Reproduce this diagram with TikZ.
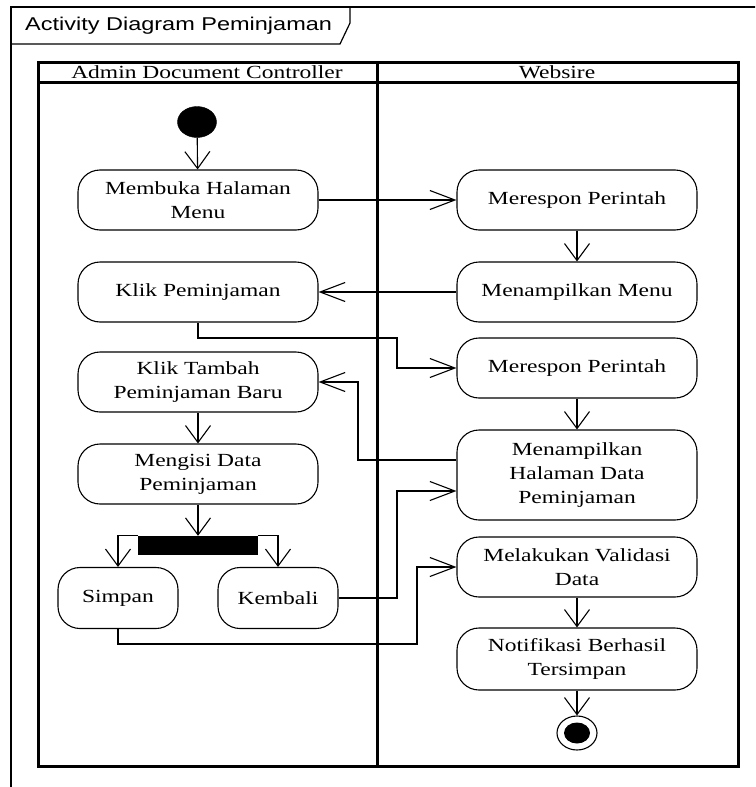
\documentclass[tikz,border=0pt]{standalone}
\usepackage{fontspec}
\setmainfont{Liberation Serif}[FakeStretch=1.27]
\newfontfamily\titlefont{Liberation Sans}[FakeStretch=1.27]
\usetikzlibrary{arrows.meta,shapes.geometric}
\begin{document}
\begin{tikzpicture}[x=1pt,y=-1pt,
  act/.style={draw, rounded corners=22, minimum width=240, minimum height=60,
    align=center, font=\fontsize{18.5}{24}\selectfont, line width=1.1pt, inner sep=0},
  smallact/.style={act, minimum width=120, minimum height=61},
  conn/.style={line width=1.1pt},
  varr/.style={conn, -{Straight Barb[length=17pt,width=25pt,line width=1.1pt]}},
  harr/.style={conn, -{Straight Barb[length=25pt,width=19pt,line width=1.1pt]}},
  lane/.style={line width=3pt},
  hdr/.style={font=\fontsize{18.5}{22}\selectfont, inner sep=0}]
\useasboundingbox (0,0) rectangle (755,787);
\clip (0,0) rectangle (755,787);
\fill[white] (0,0) rectangle (755,787);
% frame
\draw[line width=1.4pt] (11,800) -- (11,7) -- (800,7);
\draw[line width=1.2pt] (11,44) -- (340,44) -- (350,23) -- (350,7);
\node[anchor=west, font=\titlefont\fontsize{18.5}{22}\selectfont, inner sep=0] (title) at (25,26) {Activity Diagram Peminjaman};
% swimlanes
\draw[lane] (38,62) rectangle (738,766);
\draw[lane] (38,82) -- (738,82);
\draw[lane] (377,62) -- (377,766);
\node[hdr] (h1) at (207,72) {Admin Document Controller};
\node[hdr] (h2) at (557,72) {Websire};
% left lane
\node[draw, fill=black, ellipse, minimum width=39, minimum height=31, inner sep=0] (init) at (197,122) {};
\node[act] (mem) at (198,200) {Membuka Halaman\\Menu};
\node[act] (klik) at (198,292) {Klik Peminjaman};
\node[act] (tambah) at (198,382) {Klik Tambah\\Peminjaman Baru};
\node[act] (isi) at (198,474) {Mengisi Data\\Peminjaman};
\node[fill=black, minimum width=120, minimum height=19, inner sep=0] (bar) at (198,545.5) {};
\node[smallact] (simp) at (118,598) {Simpan};
\node[smallact] (kem) at (278,598) {Kembali};
% right lane
\node[act] (res1) at (577,200) {Merespon Perintah};
\node[act] (menu) at (577,292) {Menampilkan Menu};
\node[act] (res2) at (577,368) {Merespon Perintah};
\node[act, minimum height=90] (hal) at (577,475) {Menampilkan\\Halaman Data\\Peminjaman};
\node[act] (val) at (577,567) {Melakukan Validasi\\Data};
\node[act, minimum height=62] (notif) at (577,659) {Notifikasi Berhasil\\Tersimpan};
\node[draw, ellipse, line width=1.1pt, minimum width=40, minimum height=34, inner sep=0] (fin) at (577,733) {};
\node[fill=black, ellipse, minimum width=26, minimum height=21, inner sep=0] (finin) at (fin) {};
% connectors
\draw[varr] (init) -- (mem);
\draw[harr] (mem.east) -- (res1.west);
\draw[varr] (res1) -- (menu);
\draw[harr] (menu.west) -- (klik.east);
\draw[harr] (klik.south) |- (397,338) |- (res2.west);
\draw[varr] (res2) -- (hal);
\draw[harr] ([yshift=15]hal.west) -| (358,382) -- (tambah.east);
\draw[varr] (tambah) -- (isi);
\draw[varr] (isi) -- (bar);
\draw[varr] (bar.north west) -| (simp.north);
\draw[varr] (bar.north east) -| (kem.north);
\draw[harr] (kem.east) -| (397,491) -- ([yshift=-16]hal.west);
\draw[harr] (simp.south) |- (417,644) |- (val.west);
\draw[varr] (val) -- (notif);
\draw[varr] (notif) -- (fin);
\end{tikzpicture}
\end{document}
